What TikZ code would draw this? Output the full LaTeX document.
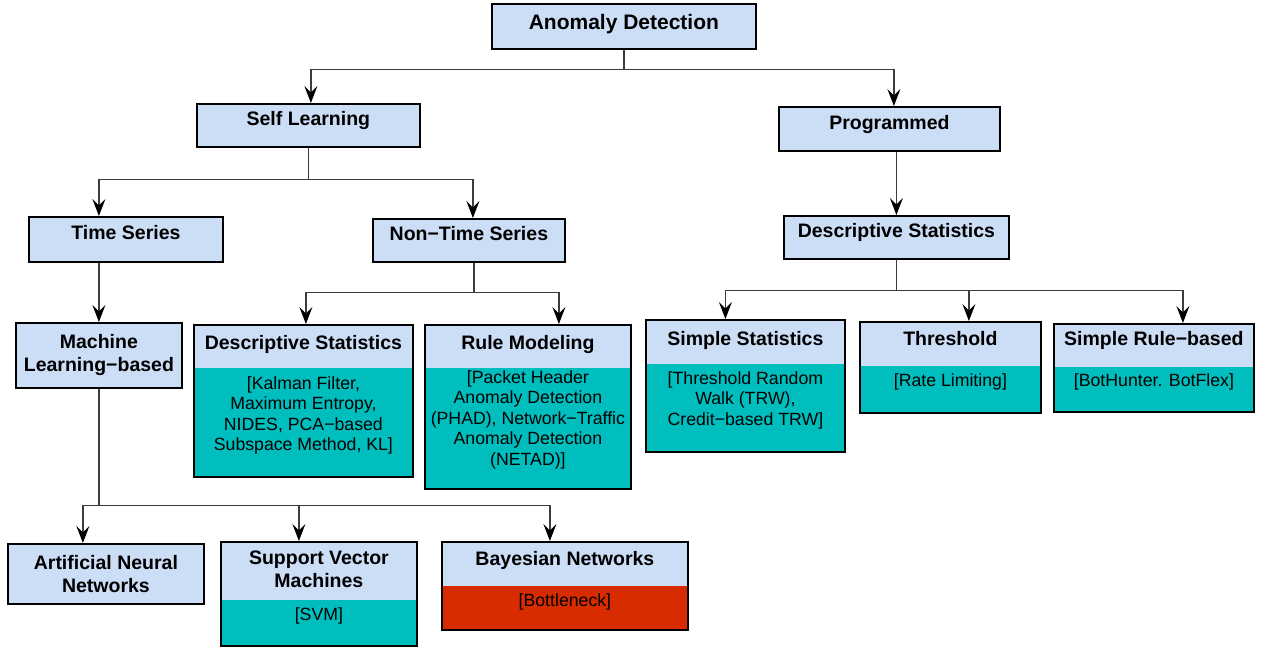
\documentclass[tikz,border=0pt]{standalone}
\usepackage{fontspec}
\setmainfont{Liberation Sans}
\usetikzlibrary{arrows.meta}

\definecolor{headblue}{RGB}{204,221,246}
\definecolor{bodyteal}{RGB}{0,190,190}
\definecolor{bodyred}{RGB}{217,43,0}
\definecolor{linkgray}{RGB}{60,60,60}

\newcommand{\topfont}{\fontsize{21}{24}\selectfont\bfseries}
\newcommand{\hdfont}{\fontsize{19.5}{23}\selectfont\bfseries}
\newcommand{\bdfont}{\fontsize{17.7}{20.5}\selectfont}

\tikzset{
  catbox/.style={draw=black, line width=1.8pt, fill=headblue, anchor=north west,
    align=center, inner sep=0pt, font=\hdfont},
  oneline/.style={text height=14pt, text depth=13pt},
  card/.style={draw=black, line width=1.8pt, fill=bodyteal, anchor=north west, inner sep=0pt,
    path picture={\fill[headblue] (path picture bounding box.north west)
      rectangle ([yshift=-#1]path picture bounding box.north east);}},
  hdtext/.style={anchor=north, inner sep=0pt, align=center, font=\hdfont},
  bdtext/.style={anchor=north, inner sep=0pt, align=center, font=\bdfont},
  link/.style={draw=linkgray, line width=1.2pt,
    -{Stealth[length=17pt,width=13pt,inset=6.5pt,color=black]}}
}

\begin{document}
\begin{tikzpicture}[x=1pt,y=-1pt]

\useasboundingbox (0,0) rectangle (1264,647);

% Root and first level
\node[catbox, minimum width=264pt, minimum height=45pt, font=\topfont,
  text height=15pt, text depth=9pt] (ad) at (491,3) {Anomaly Detection};
\node[catbox, oneline, minimum width=223pt, minimum height=43pt] (sl) at (196,103) {Self Learning};
\node[catbox, oneline, minimum width=221pt, minimum height=44pt] (prog) at (778,106) {Programmed};

% Second level
\node[catbox, oneline, minimum width=194pt, minimum height=45pt] (ts) at (28,216) {Time Series};
\node[catbox, oneline, minimum width=192pt, minimum height=43pt] (nts) at (372,218) {Non−Time Series};
\node[catbox, oneline, minimum width=225pt, minimum height=43pt] (dsr) at (783,215) {Descriptive Statistics};

% Third level
\node[catbox, minimum width=166pt, minimum height=65pt] (mlb) at (15,322) {Machine\\Learning−based};

\node[card=43pt, minimum width=219pt, minimum height=152pt] (dsl) at (193,324) {};
\node[hdtext] (dslh) at ([yshift=-11pt]dsl.north) {Descriptive Statistics};
\node[bdtext] (dslb) at ([yshift=-52pt]dsl.north) {[Kalman Filter,\\Maximum Entropy,\\NIDES, PCA−based\\Subspace Method, KL]};

\node[card=43pt, minimum width=206pt, minimum height=164pt] (rm) at (424,324) {};
\node[hdtext] (rmh) at ([yshift=-11pt]rm.north) {Rule Modeling};
\node[bdtext] (rmb) at ([yshift=-46pt]rm.north) {[Packet Header\\Anomaly Detection\\(PHAD), Network−Traffic\\Anomaly Detection\\(NETAD)]};

\node[card=44pt, minimum width=199pt, minimum height=132pt] (ss) at (645,319) {};
\node[hdtext] (ssh) at ([yshift=-12pt]ss.north) {Simple Statistics};
\node[bdtext] (ssb) at ([yshift=-52pt]ss.north) {[Threshold Random\\Walk (TRW),\\Credit−based TRW]};

\node[card=44pt, minimum width=181pt, minimum height=91pt] (thr) at (859,321) {};
\node[hdtext] (thrh) at ([yshift=-10pt]thr.north) {Threshold};
\node[bdtext] (thrb) at ([yshift=-52pt]thr.north) {[Rate Limiting]};

\node[card=43pt, minimum width=200pt, minimum height=88pt] (srb) at (1053,323) {};
\node[hdtext] (srbh) at ([yshift=-8pt]srb.north) {Simple Rule−based};
\node[bdtext] (srbb) at ([yshift=-50pt]srb.north) {[BotHunter. BotFlex]};

% Bottom level
\node[catbox, minimum width=196pt, minimum height=60pt] (ann) at (7,543) {Artificial Neural\\Networks};

\node[card=58pt, minimum width=196pt, minimum height=104pt] (svm) at (220,541) {};
\node[hdtext] (svmh) at ([yshift=-10pt]svm.north) {Support Vector\\Machines};
\node[bdtext] (svmb) at ([yshift=-66pt]svm.north) {[SVM]};

\node[card=44pt, fill=bodyred, minimum width=246pt, minimum height=88pt] (bn) at (441,541) {};
\node[hdtext] (bnh) at ([yshift=-10pt]bn.north) {Bayesian Networks};
\node[bdtext] (bnb) at ([yshift=-52pt]bn.north) {[Bottleneck]};

% Connectors
\draw[link] (ad.south) -- ++(0,20) -| ([xshift=2.5pt]sl.north);
\draw[link] (ad.south) -- ++(0,20) -| ([xshift=4.5pt]prog.north);

\draw[link] (sl.south) -- ++(0,32) -| (ts.north -| mlb.north);
\draw[link] (sl.south) -- ++(0,32) -| ([xshift=4pt]nts.north);

\draw[link] (ts.south -| mlb.north) -- (mlb.north);

\draw[link] ([xshift=5pt]nts.south) -- ++(0,30) -| ([xshift=2.5pt]dsl.north);
\draw[link] ([xshift=5pt]nts.south) -- ++(0,30) -| ([xshift=31pt]rm.north);

\draw[link] (prog.south -| dsr.north) -- (dsr.north);

\draw[link] (dsr.south) -- ++(0,31) -| ([xshift=-20pt]ss.north);
\draw[link] (dsr.south) -- ++(0,31) -| ([xshift=18.5pt]thr.north);
\draw[link] (dsr.south) -- ++(0,31) -| ([xshift=29pt]srb.north);

\draw[link] (mlb.south) -- ++(0,117) -| ([xshift=-23pt]ann.north);
\draw[link] (mlb.south) -- ++(0,117) -| ([xshift=-20pt]svm.north);
\draw[link] (mlb.south) -- ++(0,117) -| ([xshift=-15pt]bn.north);

\end{tikzpicture}
\end{document}
